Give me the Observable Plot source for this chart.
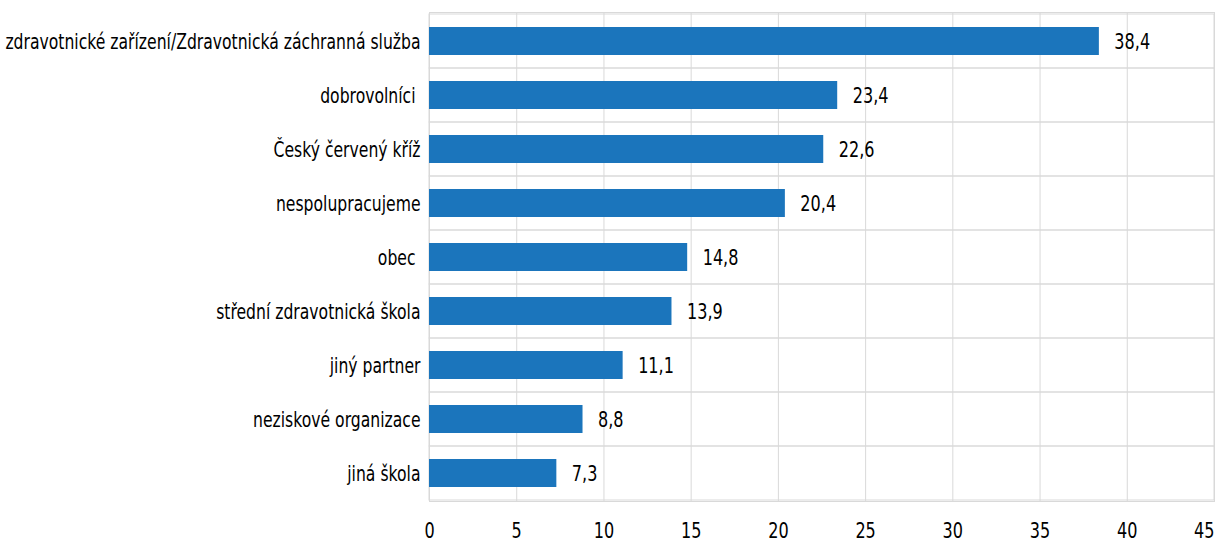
<!DOCTYPE html>
<html>
<head>
<meta charset="utf-8">
<script src="https://cdn.jsdelivr.net/npm/d3@7"></script>
<script src="https://cdn.jsdelivr.net/npm/@observablehq/plot@0.6"></script>
<style>
  html, body { margin: 0; padding: 0; background: #fff; }
  #chart svg { display: block; }
  #chart svg text { white-space: pre; }
</style>
</head>
<body>
<div id="chart"></div>
<script>
const categories = [
  "zdravotnické zařízení/Zdravotnická záchranná služba",
  "dobrovolníci ",
  "Český červený kříž",
  "nespolupracujeme",
  "obec ",
  "střední zdravotnická škola",
  "jiný partner",
  "neziskové organizace",
  "jiná škola"
];
const values = [38.4, 23.4, 22.6, 20.4, 14.8, 13.9, 11.1, 8.8, 7.3];
const xTicks = [0, 5, 10, 15, 20, 25, 30, 35, 40, 45];

const data = categories.map((c, i) => ({category: c, value: values[i]}));
const fmt = v => v.toFixed(1).replace(".", ",");
const grid = "#d9d9d9";
const fs = 22;

const chart = Plot.plot({
  width: 1219,
  height: 542,
  marginLeft: 429,
  marginRight: 5,
  marginTop: 12,
  marginBottom: 41,
  style: {fontFamily: "'DejaVu Sans', sans-serif", fontSize: fs + "px", color: "#000", background: "#fff"},
  x: {domain: [0, 45], ticks: xTicks, label: null},
  y: {domain: categories, padding: 0, label: null},
  marks: [
    Plot.barX(categories, {x1: 0, x2: 45, y: d => d, fill: "none", stroke: grid, strokeWidth: 1}),
    Plot.gridX({ticks: xTicks, stroke: grid, strokeOpacity: 1, strokeWidth: 1}),
    Plot.frame({stroke: grid, strokeWidth: 1}),
    Plot.barX(data, {x: "value", y: "category", fill: "#1b75bc", insetTop: 13, insetBottom: 13}),
    Plot.text(data, {x: "value", y: "category", text: d => fmt(d.value), textAnchor: "start", dx: 15, fontSize: fs, fill: "#000", className: "vlabel"}),
    Plot.axisX({ticks: xTicks, tickSize: 0, tickPadding: 21, fontSize: fs, tickFormat: d => String(d), className: "xaxis"}),
    Plot.axisY({tickSize: 0, tickPadding: 9, fontSize: fs, className: "yaxis"})
  ]
});
document.getElementById("chart").appendChild(chart);
// emulate the condensed typeface of the original
function condense(selector, k) {
  chart.querySelectorAll(selector).forEach(t => {
    const w = t.getComputedTextLength();
    if (w > 0) {
      t.setAttribute("textLength", (w * k).toFixed(2));
      t.setAttribute("lengthAdjust", "spacingAndGlyphs");
    }
  });
}
condense(".yaxis text", 0.71);
condense(".xaxis text", 0.73);
condense(".vlabel text", 0.73);
// keep the last tick label inside the chart, as in the original
const xt = chart.querySelectorAll(".xaxis text");
if (xt.length) xt[xt.length - 1].setAttribute("text-anchor", "end");
</script>
</body>
</html>
